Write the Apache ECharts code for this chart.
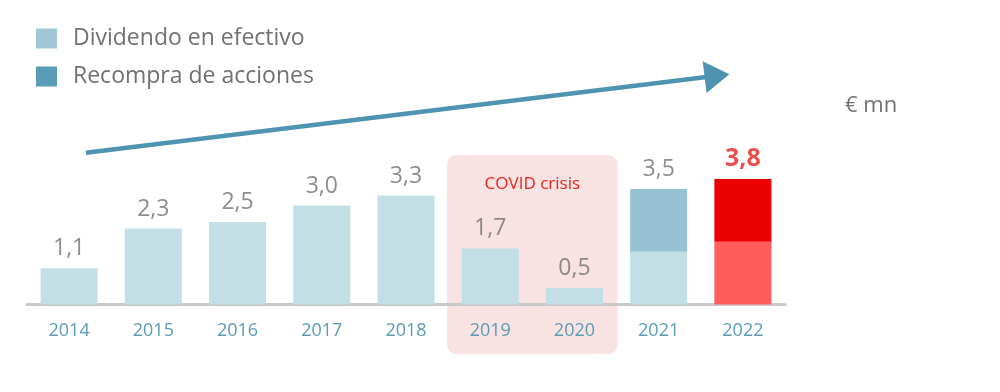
<!DOCTYPE html>
<html><head><meta charset="utf-8">
<script src="https://cdn.jsdelivr.net/npm/echarts@6/dist/echarts.min.js"></script>
<style>html,body{margin:0;padding:0;background:#fff}#c{width:1000px;height:392px}</style>
</head><body><div id="c"></div>
<script>
var years = ['2014','2015','2016','2017','2018','2019','2020','2021','2022'];
var dividend = [1.1, 2.3, 2.5, 3.0, 3.3, 1.7, 0.5, 1.6, 1.9];
var buyback  = [0, 0, 0, 0, 0, 0, 0, 1.9, 1.9];
var seriesNames = ['Dividendo en efectivo', 'Recompra de acciones'];
var unitText = '€ mn';
var covidText = 'COVID crisis';
var covidYears = ['2019', '2020'];

var FONT = '"Open Sans", sans-serif';
var totals = dividend.map(function (d, i) { return Math.round((d + buyback[i]) * 10) / 10; });
var last = years.length - 1;

var chart = echarts.init(document.getElementById('c'), null, {renderer: 'canvas'});

var option = {
  animation: false,
  textStyle: {fontFamily: FONT},
  grid: {left: 27, right: 215, top: 106.5, bottom: 87.5},
  legend: {
    orient: 'vertical', left: 31, top: 22, itemWidth: 21, itemHeight: 20, itemGap: 15,
    selectedMode: false,
    textStyle: {fontFamily: FONT, fontSize: 23, color: '#6f7272', padding: [0, 0, 0, 11]},
    data: [
      {name: seriesNames[0], icon: 'rect', itemStyle: {color: '#9fc7d5'}},
      {name: seriesNames[1], icon: 'rect', itemStyle: {color: '#5a9bb6'}}
    ]
  },
  xAxis: {
    type: 'category', data: years,
    axisLine: {lineStyle: {color: '#c8c8c8', width: 3}},
    axisTick: {show: false},
    axisLabel: {color: '#5b9bb5', fontSize: 18, margin: 17, fontFamily: FONT}
  },
  yAxis: {type: 'value', min: 0, max: 6, show: false, splitLine: {show: false}},
  series: [
    {
      name: seriesNames[0], type: 'bar', stack: 's', barWidth: 57, z: 3,
      itemStyle: {color: '#c2dfe6'},
      data: dividend.map(function (v, i) {
        return i === last ? {value: v, itemStyle: {color: '#ff5c5c'}} : v;
      })
    },
    {
      name: seriesNames[1], type: 'bar', stack: 's', barWidth: 57, z: 3,
      itemStyle: {color: '#96c2d3'},
      data: buyback.map(function (v, i) {
        return i === last ? {value: v, itemStyle: {color: '#ec0000'}} : v;
      })
    },
    {
      name: 'total', type: 'scatter', symbolSize: 0, z: 4, silent: true,
      label: {
        show: true, position: 'top', distance: 8, fontSize: 23, color: '#6f7272', fontFamily: FONT,
        formatter: function (p) { return p.value.toFixed(1).replace('.', ','); }
      },
      data: totals.map(function (v, i) {
        return i === last ? {value: v, label: {color: '#e8231f', fontWeight: 'bold', fontSize: 25}} : v;
      })
    }
  ]
};
chart.setOption(option);

function xAt(idx) { return chart.convertToPixel({xAxisIndex: 0}, idx); }
function yAt(v) { return chart.convertToPixel({yAxisIndex: 0}, v); }
var band = xAt(1) - xAt(0);
var i19 = years.indexOf(covidYears[0]), i20 = years.indexOf(covidYears[1]);
var rx0 = xAt(i19) - band / 2 - 1, rx1 = xAt(i20) + band / 2 + 1;
var ry0 = yAt(4.53), ry1 = yAt(-1.5);

var sx = xAt(0) + 0.2 * band, sy = yAt(4.6);
var tx = xAt(last) - 0.16 * band, ty = yAt(6.98);
var ang = Math.atan2(ty - sy, tx - sx);
var L = 25, W = 16;
var bx = tx - L * Math.cos(ang), by = ty - L * Math.sin(ang);
var nx = -Math.sin(ang), ny = Math.cos(ang);

chart.setOption({
  graphic: [
    {type: 'rect', z: -10, silent: true,
     shape: {x: rx0, y: ry0, width: rx1 - rx0, height: ry1 - ry0, r: 9},
     style: {fill: '#f9e2e2'}},
    {type: 'text', z: 5, silent: true,
     style: {text: covidText, x: (rx0 + rx1) / 2, y: yAt(3.65), align: 'center', verticalAlign: 'middle',
             fill: '#e8231f', font: '17px ' + FONT}},
    {type: 'line', z: 5, silent: true,
     shape: {x1: sx, y1: sy, x2: bx + 2 * Math.cos(ang), y2: by + 2 * Math.sin(ang)},
     style: {stroke: '#4e94b0', lineWidth: 4.5}},
    {type: 'polygon', z: 5, silent: true,
     shape: {points: [[tx, ty], [bx + W * nx, by + W * ny], [bx - W * nx, by - W * ny]]},
     style: {fill: '#4e94b0'}},
    {type: 'text', z: 5, silent: true,
     style: {text: unitText, x: 845, y: 106, verticalAlign: 'middle', fill: '#6f7272', font: '22px ' + FONT}}
  ]
});
</script></body></html>
